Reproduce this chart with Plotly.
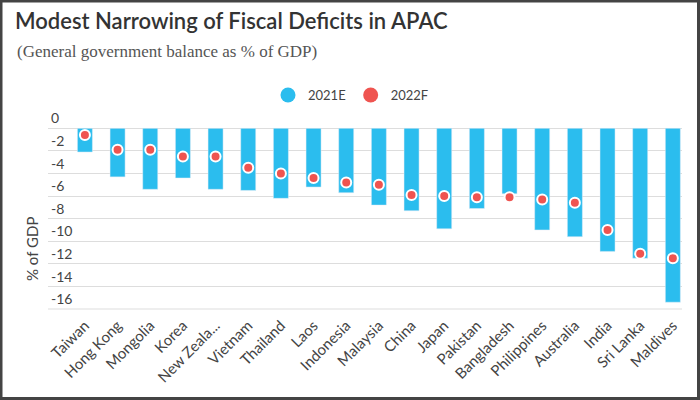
import plotly.graph_objects as go

countries = ["Taiwan", "Hong Kong", "Mongolia", "Korea", "New Zeala...", "Vietnam",
             "Thailand", "Laos", "Indonesia", "Malaysia", "China", "Japan", "Pakistan",
             "Bangladesh", "Philippines", "Australia", "India", "Sri Lanka", "Maldives"]
bal_2021e = [-2.1, -4.3, -5.4, -4.4, -5.4, -5.5, -6.2, -5.2, -5.7, -6.8, -7.3, -8.9,
             -7.1, -5.8, -9.0, -9.6, -10.9, -11.5, -15.4]
bal_2022f = [-0.6, -1.9, -1.9, -2.5, -2.5, -3.5, -4.0, -4.4, -4.8, -5.0, -5.9, -6.0,
             -6.1, -6.1, -6.3, -6.6, -9.0, -11.1, -11.5]
y_ticks = [0, -2, -4, -6, -8, -10, -12, -14, -16]

BLUE = "#2BBDEE"
RED = "#EF5450"

W, H = 700, 400
L, R, T, B = 48, 18, 108, 91
pw, ph = W - L - R, H - T - B

def px_x(x):
    return (x - L) / pw

def px_y(y):
    return (H - B - y) / ph

fig = go.Figure()
fig.add_trace(go.Bar(x=countries, y=bal_2021e, marker_color=BLUE, width=0.46,
                     name="2021E", showlegend=False))
fig.add_trace(go.Scatter(x=countries, y=bal_2022f, mode="markers", name="2022F",
                         marker=dict(color=RED, size=10, line=dict(color="white", width=2)),
                         showlegend=False))
# legend entries with circle symbols
fig.add_trace(go.Scatter(x=[None], y=[None], mode="markers", name="2021E",
                         marker=dict(color=BLUE, size=15)))
fig.add_trace(go.Scatter(x=[None], y=[None], mode="markers", name="2022F",
                         marker=dict(color=RED, size=15)))

fig.update_layout(
    width=W, height=H,
    margin=dict(l=L, r=R, t=T, b=B, autoexpand=False),
    paper_bgcolor="white", plot_bgcolor="white",
    font=dict(family="Lato", color="#333"),
    title=dict(text="Modest Narrowing of Fiscal Deficits in APAC",
               font=dict(family="Lato", size=22, color="#333", weight=600),
               xref="container", yref="container", x=15 / W, xanchor="left",
               y=1 - 21 / H, yanchor="middle"),
    legend=dict(orientation="h", x=px_x(351), xanchor="center", y=px_y(95), yanchor="middle",
                font=dict(size=13, color="#444"), itemsizing="trace"),
    bargap=0.5,
    xaxis=dict(range=[-1.13, 18.28], tickangle=-45, showgrid=False, showline=False,
               tickfont=dict(size=15, color="#444"), ticks="", automargin=False,
               ticklabelstandoff=4),
    yaxis=dict(range=[-16, 1.8], tickvals=y_ticks, ticktext=[str(v) for v in y_ticks],
               ticklabelposition="inside top", showgrid=True, gridcolor="#DDDDDD",
               gridwidth=1, zeroline=False, tickfont=dict(size=14, color="#444"),
               showline=False, automargin=False),
    annotations=[
        dict(text="(General government balance as % of GDP)", xref="paper", yref="paper",
             x=px_x(15), y=px_y(52), xanchor="left", yanchor="middle", showarrow=False,
             font=dict(family="Liberation Serif", size=17, color="#555")),
        dict(text="% of GDP", xref="paper", yref="paper", x=px_x(32), y=px_y(249),
             xanchor="center", yanchor="middle", textangle=-90, showarrow=False,
             font=dict(family="Lato", size=15, color="#444")),
    ],
    shapes=[
        dict(type="rect", xref="paper", yref="paper", x0=px_x(1), x1=px_x(698.5),
             y0=px_y(398.5), y1=px_y(1), line=dict(color="#444", width=3), layer="above"),
        dict(type="line", xref="paper", yref="paper", x0=0, x1=1, y0=0, y1=0,
             line=dict(color="#DDDDDD", width=1)),
    ],
)

fig.write_html("out.html", config={"displayModeBar": False},
               post_script="document.body.style.margin='0';document.body.style.overflow='hidden';")
